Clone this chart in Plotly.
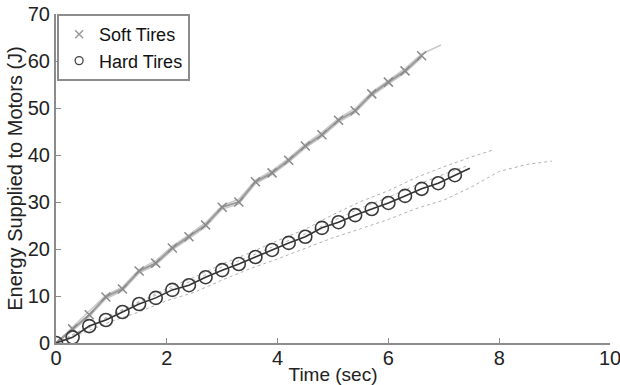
import plotly.graph_objects as go

# Soft tires mean (markers every 0.3 s)
soft_t = [0.0, 0.3, 0.6, 0.9, 1.2, 1.5, 1.8, 2.1, 2.4, 2.7, 3.0, 3.3, 3.6, 3.9, 4.2, 4.5,
          4.8, 5.1, 5.4, 5.7, 6.0, 6.3, 6.6]
soft_e = [0.0, 3.0, 6.0, 9.8, 11.5, 15.3, 17.0, 20.2, 22.6, 25.1, 28.9, 30.0, 34.3, 36.2,
          38.9, 41.9, 44.3, 47.4, 49.4, 53.0, 55.5, 57.9, 61.1]
# Soft tires individual trials (faint)
soft_trial_t = [0.0, 0.3, 0.6, 0.9, 1.2, 1.5, 1.8, 2.1, 2.4, 2.7, 3.0, 3.3, 3.6, 3.9, 4.2,
                4.5, 4.8, 5.1, 5.4, 5.7, 6.0, 6.3, 6.6, 6.95]
soft_trial_e = [0.0, 3.4, 6.6, 10.2, 11.9, 15.6, 17.5, 20.6, 23.0, 25.6, 29.2, 30.6, 34.6,
                36.7, 39.3, 42.3, 44.8, 47.8, 49.9, 53.4, 55.9, 58.4, 61.5, 63.4]
soft_trial2_e = [0.0, 2.6, 5.6, 9.4, 11.1, 14.9, 16.6, 19.8, 22.2, 24.7, 28.5, 29.6, 33.9,
                 35.8, 38.5, 41.5, 43.9, 47.0, 49.0, 52.6, 55.1, 57.5, 60.7]

# Hard tires mean
hard_t = [0.0, 0.3, 0.6, 0.9, 1.2, 1.5, 1.8, 2.1, 2.4, 2.7, 3.0, 3.3, 3.6, 3.9, 4.2, 4.5,
          4.8, 5.1, 5.4, 5.7, 6.0, 6.3, 6.6, 6.9, 7.2]
hard_e = [0.0, 1.2, 3.6, 4.9, 6.6, 8.3, 9.6, 11.3, 12.3, 14.0, 15.5, 16.8, 18.3, 19.8, 21.3,
          22.6, 24.5, 25.7, 27.2, 28.5, 29.8, 31.3, 32.8, 34.0, 35.7]
hard_line_t = hard_t + [7.47]
hard_line_e = hard_e + [37.2]

# Hard tires trials (dotted)
hard_up_t = [0.0, 0.5, 1.0, 1.5, 2.0, 2.5, 3.0, 3.5, 4.0, 4.5, 5.0, 5.5, 6.0, 6.5, 7.0, 7.5, 7.9]
hard_up_e = [0.0, 3.0, 6.0, 8.8, 11.6, 14.0, 16.8, 19.2, 21.8, 24.2, 27.3, 30.1, 32.4, 35.2,
             37.5, 39.6, 41.1]
hard_mid_t = [0.0, 0.5, 1.0, 1.5, 2.0, 2.5, 3.0, 3.5, 4.0, 4.5, 5.0, 5.5, 6.0, 6.5, 7.0, 7.4]
hard_mid_e = [0.0, 2.6, 5.8, 8.6, 11.2, 13.4, 16.2, 18.4, 20.9, 23.2, 26.0, 28.7, 31.0, 33.6,
              35.9, 37.6]
hard_lo_t = [0.0, 0.5, 1.0, 1.5, 2.0, 2.5, 3.0, 3.5, 4.0, 4.5, 5.0, 5.5, 6.0, 6.5, 7.0, 7.5,
             8.0, 8.5, 8.95]
hard_lo_e = [0.0, 2.2, 4.6, 6.6, 9.0, 10.8, 13.4, 15.8, 17.9, 20.1, 22.4, 24.3, 26.3, 28.6,
             30.4, 33.2, 36.5, 38.0, 38.7]

x_ticks = [0, 2, 4, 6, 8, 10]
y_ticks = [0, 10, 20, 30, 40, 50, 60, 70]

fig = go.Figure()

faint = dict(color="rgba(150,150,150,0.75)", width=1, dash="dot")
for tx, ey in [(hard_up_t, hard_up_e), (hard_mid_t, hard_mid_e), (hard_lo_t, hard_lo_e)]:
    fig.add_trace(go.Scatter(x=tx, y=ey, mode="lines", line=faint,
                             showlegend=False, hoverinfo="skip"))
fig.add_trace(go.Scatter(x=soft_trial_t, y=soft_trial_e, mode="lines",
                         line=dict(color="rgba(195,195,195,0.9)", width=1.5),
                         showlegend=False, hoverinfo="skip"))
fig.add_trace(go.Scatter(x=soft_t, y=soft_trial2_e, mode="lines",
                         line=dict(color="rgba(195,195,195,0.9)", width=1.5),
                         showlegend=False, hoverinfo="skip"))

fig.add_trace(go.Scatter(x=soft_t, y=soft_e, mode="lines+markers",
                         line=dict(color="#9a9a9a", width=2),
                         marker=dict(symbol="x-thin", size=9,
                                     line=dict(color="#8a8a8a", width=1.5)),
                         showlegend=False))
fig.add_trace(go.Scatter(x=hard_line_t, y=hard_line_e, mode="lines",
                         line=dict(color="#333333", width=1.6),
                         showlegend=False))
fig.add_trace(go.Scatter(x=hard_t, y=hard_e, mode="markers",
                         marker=dict(symbol="circle-open", size=13, color="#3a3a3a",
                                     line=dict(color="#3a3a3a", width=1.6)),
                         showlegend=False))

# legend entries (markers only, as in the reference)
fig.add_trace(go.Scatter(x=[None], y=[None], mode="markers", name="Soft Tires",
                         marker=dict(symbol="x-thin", size=8,
                                     line=dict(color="#9a9a9a", width=1.5))))
fig.add_trace(go.Scatter(x=[None], y=[None], mode="markers", name="Hard Tires",
                         marker=dict(symbol="circle-open", size=8, color="#444444",
                                     line=dict(color="#444444", width=1.3))))

axis_common = dict(showgrid=False, zeroline=False, showline=True, linecolor="#8c8c8c",
                   linewidth=2, ticks="inside", ticklen=5, tickcolor="#8c8c8c",
                   tickwidth=1, tickfont=dict(size=20, color="#222222"),
                   mirror=False, automargin=False, ticklabeloverflow="allow")

fig.update_layout(
    width=620, height=385,
    margin=dict(l=56, r=10, t=14, b=42),
    paper_bgcolor="white", plot_bgcolor="white",
    font=dict(family="Liberation Sans, Arial, sans-serif", color="#222222"),
    xaxis=dict(range=[0, 10], tickvals=x_ticks, ticktext=[str(v) for v in x_ticks],
               title=dict(text="Time (sec)", font=dict(size=19), standoff=0),
               ticklabelstandoff=-4, **axis_common),
    yaxis=dict(range=[0, 70], tickvals=y_ticks, ticktext=[str(v) for v in y_ticks],
               title=dict(text="Energy Supplied to Motors (J)", font=dict(size=20),
                          standoff=0),
               **axis_common),
    legend=dict(x=0.002, y=1.0, xanchor="left", yanchor="top",
                bgcolor="white", bordercolor="#8c8c8c", borderwidth=2,
                font=dict(size=18, color="#111111"), itemwidth=30,
                tracegroupgap=0, itemsizing="trace"),
    showlegend=True,
)

fig.write_html("out.html")
